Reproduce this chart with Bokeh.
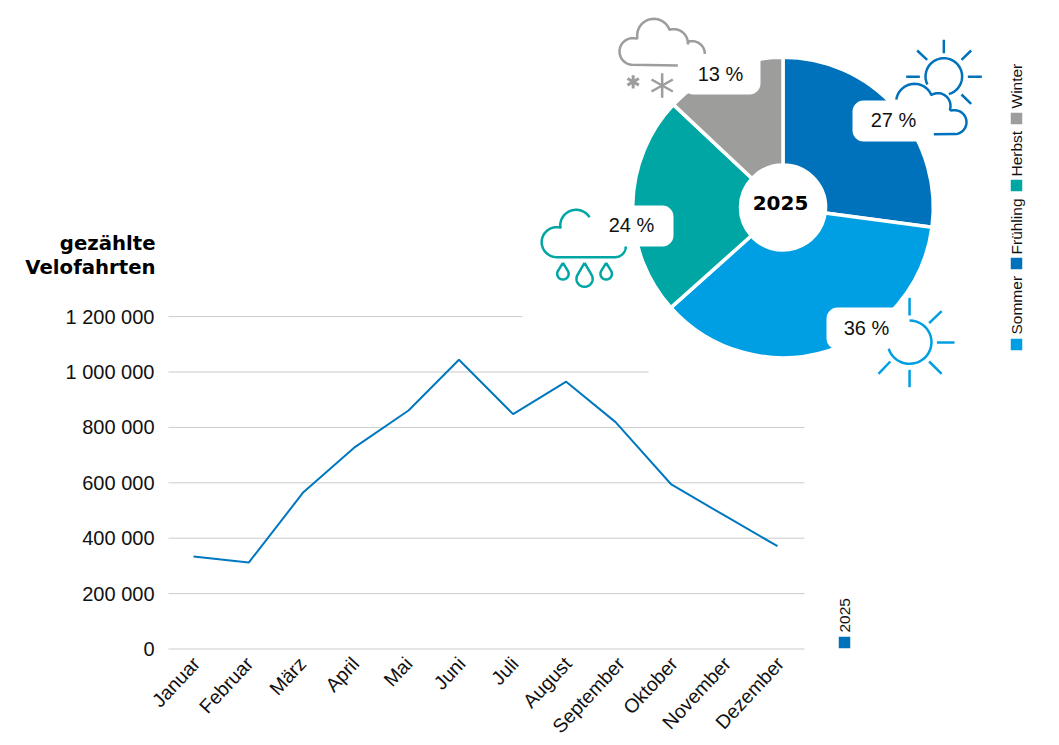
import math
import numpy as np
from bokeh.plotting import figure
from bokeh.models import Range1d, FixedTicker, ColumnDataSource
from bokeh.core.properties import value
from bokeh.embed import file_html
from bokeh.resources import INLINE

# ---------- data ----------
MONTHS = ["Januar", "Februar", "März", "April", "Mai", "Juni", "Juli", "August",
          "September", "Oktober", "November", "Dezember"]
MONTH_POS = [0, 1.04, 2.07, 3.02, 4.05, 5.0, 6.02, 7.02, 7.95, 9.0, 10.0, 11.0]
RIDES_2025 = [334000, 312000, 566000, 726000, 861000, 1044000, 848000, 965000,
              819000, 594000, 482000, 371000]
Y_TICKS = [0, 200000, 400000, 600000, 800000, 1000000, 1200000]
Y_LABELS = ["0", "200 000", "400 000", "600 000", "800 000", "1 000 000", "1 200 000"]
SEASONS = ["Frühling", "Sommer", "Herbst", "Winter"]
SEASON_SHARE = [27.1, 36.3, 23.6, 13.0]
YEAR = "2025"

# ---------- colours ----------
DARK = "#0072BC"; LIGHT = "#009FE3"; TEAL = "#00A6A4"; GREY = "#9D9D9C"
SEASON_COL = [DARK, LIGHT, TEAL, GREY]
FONT = "Liberation Sans"; HEAVY = "DejaVu Sans"

W, H = 1050, 740
# layout, in picture pixels
X0, DX = 193.0, (777.0 - 193.0) / 11
Y0, PY = 648.5, 55.4 / 200000


def ix(px):
    return (px - X0) / DX


p = figure(width=W, height=H, output_backend="svg", toolbar_location=None,
           x_range=Range1d(ix(0), ix(W)),
           y_range=Range1d((Y0 - H) / PY, Y0 / PY),
           min_border=0, outline_line_color=None, background_fill_color="white")
p.grid.visible = False
CX, CY = 782.5, 207.0
p.extra_x_ranges["pie"] = Range1d(-CX, W - CX)
p.extra_y_ranges["pie"] = Range1d(CY - H, CY)
p.extra_x_ranges["px"] = Range1d(0, W)
p.extra_y_ranges["px"] = Range1d(H, 0)
PX = dict(x_range_name="px", y_range_name="px")

# axes pinned inside the frame
LABEL_NUDGE = 0.05  # slanted labels sit slightly right of their point
xticks = [round(i + LABEL_NUDGE, 2) for i in range(len(MONTHS))]
xa = p.xaxis[0]
xa.fixed_location = 0
xa.ticker = FixedTicker(ticks=xticks)
xa.major_label_overrides = {t: m for t, m in zip(xticks, MONTHS)}
xa.major_label_orientation = math.radians(47)
xa.major_label_text_font = FONT
xa.major_label_text_font_size = "19.5px"
xa.major_label_text_color = "#111111"
xa.major_label_standoff = 5
xa.axis_line_color = None; xa.major_tick_line_color = None; xa.minor_tick_line_color = None
ya = p.yaxis[0]
ya.fixed_location = ix(168)
ya.ticker = FixedTicker(ticks=Y_TICKS)
ya.major_label_overrides = {t: l for t, l in zip(Y_TICKS, Y_LABELS)}
ya.major_label_text_font = FONT
ya.major_label_text_font_size = "20px"
ya.major_label_text_color = "#111111"
ya.major_label_standoff = 8
ya.axis_line_color = None; ya.major_tick_line_color = None; ya.minor_tick_line_color = None

# gridlines (the pie panel hides the right part of the upper two)
ends = [804, 804, 804, 804, 804, 648, 522]
p.segment(x0=[ix(168)] * len(Y_TICKS), x1=[ix(e) for e in ends], y0=Y_TICKS, y1=Y_TICKS,
          line_color=["#CCCCCC"] * 5 + ["#E4E4E4", "#CCCCCC"],
          line_width=[1, 1, 1, 1, 1, 2, 1])

# line
p.line(MONTH_POS, RIDES_2025, line_color="#0078BF", line_width=2)

# pie
cum = np.cumsum([0] + SEASON_SHARE) / sum(SEASON_SHARE)
start = math.pi / 2 - 2 * math.pi * cum[:-1]
end = math.pi / 2 - 2 * math.pi * cum[1:]
src = ColumnDataSource(dict(start=end, end=start, col=SEASON_COL))
p.annular_wedge(x=0, y=0, inner_radius=42.5, outer_radius=150.3,
                inner_radius_units="screen", outer_radius_units="screen",
                start_angle="start", end_angle="end", fill_color="col",
                line_color="white", line_width=3.5, source=src,
                x_range_name="pie", y_range_name="pie")


def rounded(x0, y0, x1, y1, r=11):
    xs, ys = [], []
    for cx, cy, a in [(x1 - r, y0 + r, -90), (x1 - r, y1 - r, 0), (x0 + r, y1 - r, 90), (x0 + r, y0 + r, 180)]:
        for t in np.radians(np.linspace(a, a + 90, 8)):
            xs.append(cx + r * math.cos(t)); ys.append(cy + r * math.sin(t))
    return xs, ys


for box in [(682, 30, 760, 94), (852, 100, 934, 141), (590, 205, 673, 246), (826, 307, 915, 349)]:
    bx, by = rounded(*box)
    p.patch(bx, by, fill_color="white", line_color=None, **PX)


# ---------- weather icons ----------
def arc(cx, cy, r, a0, a1):
    t = np.radians(np.linspace(a0, a1, 28))
    return list(cx + r * np.cos(t)), list(cy - r * np.sin(t))


def chain(ox, oy, sx, sy, parts):
    xs, ys = [], []
    for part in parts:
        if len(part) == 5:
            ax, ay = arc(*part)
        else:
            ax, ay = [part[0]], [part[1]]
        xs += ax; ys += ay
    return [ox + v / sx for v in xs], [oy + v / sy for v in ys]


def strokes(ox, oy, sx, sy, segs, color, width):
    p.multi_line([[ox + a / sx, ox + c / sx] for a, b, c, d in segs],
                 [[oy + b / sy, oy + d / sy] for a, b, c, d in segs],
                 line_color=color, line_width=width, **PX)


def curve(ox, oy, sx, sy, parts, color, width=2.5):
    xs, ys = chain(ox, oy, sx, sy, parts)
    p.line(xs, ys, line_color=color, line_width=width, **PX)


# sun + cloud (Frühling)
o = (880, 30, 3, 3)
curve(*o, [(190, 138, 55, 206, -74)], DARK)
strokes(*o, [(190, 28, 190, 68), (272, 60, 243, 88), (262, 139, 304, 139), (272, 220, 243, 192),
             (77, 139, 118, 139), (110, 60, 140, 88)], DARK, 2.5)
curve(*o, [(102, 215, 55, 172, 27), (172, 226, 38, 122, -17), (222, 275, 36, 106, -85), (160, 311)], DARK)

# sun (Sommer)
o = (530, 0, 2.96, 3)
curve(*o, [(1122, 1025, 65, 90, -162)], LIGHT)
strokes(*o, [(1122, 892, 1122, 945), (1180, 968, 1217, 932), (1203, 1026, 1255, 1026),
             (1180, 1083, 1217, 1120), (1122, 1108, 1122, 1160), (1065, 1083, 1030, 1120)], LIGHT, 2.5)

# rain cloud (Herbst)
curve(*o, [(135, 675, 47, 32, 180), (78, 725, 45, 75, 270), (250, 738, 32, -90, 0)], TEAL)


def drop(cx, cy, r, top):
    d = cy - top
    ang = math.degrees(math.asin(r / d))
    ax, ay = arc(cx, cy, r, ang, 180 - ang - 360)
    return [cx] + ax + [cx], [top] + ay + [top]


for cx, cy, r, top in [(96, 820, 17, 787), (160, 835, 24, 787), (224, 820, 17, 787)]:
    dx, dy = drop(cx, cy, r, top)
    p.line([530 + v / 2.96 for v in dx], [v / 3 for v in dy], line_color=TEAL, line_width=2.5, **PX)

# snow cloud (Winter)
o = (600, 0, 3, 3)
curve(*o, [(232, 195), (97, 153, 40, 268, 85), (160, 105, 50, 190, 20), (220, 128, 42, 107, -5), (275, 160, 38, 107, 0)], GREY)
strokes(*o, [(98, 224, 98, 264), (81, 234, 115, 254), (81, 254, 115, 234)], GREY, 3)
strokes(*o, [(185, 218, 185, 292), (153, 237, 217, 273), (153, 273, 217, 237)], GREY, 2.5)

# ---------- texts ----------
share_pos = [(893, 119), (866, 327), (631, 224.5), (720, 73)]
p.text([c[0] for c in share_pos], [c[1] for c in share_pos], text=[f"{round(v)} %" for v in SEASON_SHARE],
       text_font=value(FONT), text_font_size="20px", text_color="#111111",
       text_align="center", text_baseline="middle", **PX)
p.text([780], [202.5], text=[YEAR], text_font=value(HEAVY), text_font_style="bold", text_font_size="20px",
       text_color="black", text_align="center", text_baseline="middle", **PX)
p.text([155, 155], [243, 267], text=["gezählte", "Velofahrten"], text_font=value(HEAVY), text_font_style="bold",
       text_font_size="19.7px", text_color="black", text_align="right", text_baseline="middle", **PX)

# rotated legends
leg_square = [(1016, 263), (1016, 344), (1016, 185), (1016, 118)]
leg_text = [(1016, 254), (1016, 334), (1016, 176), (1016, 108)]
p.rect([c[0] for c in leg_square], [c[1] for c in leg_square], width=11.5, height=11.5,
       fill_color=SEASON_COL, line_color=None, **PX)
p.text([c[0] for c in leg_text], [c[1] for c in leg_text], text=SEASONS, angle=math.pi / 2,
       text_font=value(FONT), text_font_size="15.5px", text_color="#111111",
       text_align="left", text_baseline="middle", **PX)
p.rect([844], [642], width=11.5, height=11.5, fill_color=DARK, line_color=None, **PX)
p.text([844], [632], text=[YEAR], angle=math.pi / 2, text_font=value(FONT), text_font_size="15.5px",
       text_color="#111111", text_align="left", text_baseline="middle", **PX)

open("out.html", "w").write(file_html(p, INLINE))
